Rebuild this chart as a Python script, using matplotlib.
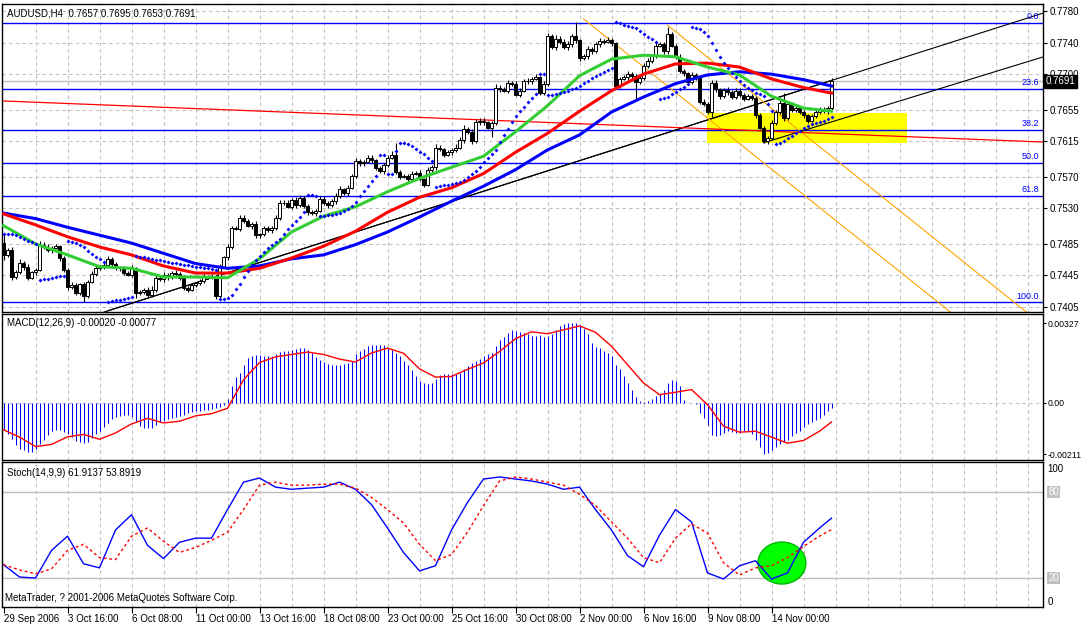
import numpy as np
import matplotlib
matplotlib.use("Agg")
import matplotlib.pyplot as plt
from matplotlib.patches import Rectangle, Ellipse

plt.rcParams['font.family'] = ['Liberation Sans', 'DejaVu Sans']

# ---- price data (H4 bars, prices in pips: 7471 -> 0.7471) ----
first_open = 7486
closes = [
    7471, 7477, 7443, 7449, 7461, 7456, 7442, 7449, 7452, 7484,
    7481, 7477, 7480, 7482, 7467, 7452, 7430, 7433, 7423, 7434,
    7419, 7437, 7447, 7454, 7456, 7458, 7466, 7459, 7454, 7454,
    7448, 7446, 7454, 7423, 7424, 7427, 7420, 7427, 7442, 7440,
    7446, 7443, 7448, 7447, 7442, 7429, 7427, 7433, 7435, 7438,
    7443, 7444, 7443, 7419, 7456, 7468, 7481, 7505, 7504, 7518,
    7514, 7508, 7510, 7496, 7497, 7505, 7503, 7505, 7518, 7537,
    7537, 7532, 7541, 7534, 7543, 7533, 7525, 7524, 7527, 7542,
    7537, 7534, 7539, 7546, 7554, 7549, 7556, 7571, 7590, 7587,
    7589, 7594, 7591, 7581, 7577, 7585, 7594, 7598, 7576, 7570,
    7571, 7567, 7574, 7575, 7567, 7560, 7579, 7582, 7607, 7605,
    7598, 7601, 7604, 7607, 7617, 7631, 7627, 7615, 7639, 7641,
    7639, 7632, 7638, 7683, 7681, 7679, 7689, 7688, 7674, 7679,
    7691, 7691, 7694, 7696, 7676, 7688, 7748, 7734, 7745, 7741,
    7734, 7738, 7748, 7743, 7720, 7723, 7732, 7729, 7738, 7742,
    7741, 7743, 7739, 7685, 7694, 7696, 7700, 7698, 7690, 7695,
    7710, 7717, 7723, 7736, 7738, 7729, 7751, 7736, 7722, 7704,
    7701, 7690, 7699, 7695, 7665, 7662, 7652, 7689, 7681, 7672,
    7680, 7677, 7671, 7679, 7674, 7669, 7672, 7670, 7648, 7632,
    7615, 7619, 7638, 7652, 7663, 7644, 7662, 7655, 7657, 7652,
    7648, 7641, 7647, 7652, 7655, 7653, 7657, 7691,
]
# upper / lower wick length beyond the body, pips
wick_up = [
    12, 3, 4, 3, 5, 2, 3, 2, 3, 4, 3, 4, 2, 3, 2, 3, 2, 4, 3, 2,
    3, 2, 4, 3, 2, 3, 4, 2, 3, 2, 3, 2, 4, 2, 3, 2, 3, 4, 3, 2,
    3, 2, 3, 4, 2, 3, 2, 3, 2, 3, 4, 2, 3, 2, 3, 2, 4, 3, 2, 4,
    3, 2, 3, 4, 2, 3, 2, 3, 4, 3, 4, 3, 2, 3, 4, 3, 2, 3, 2, 3,
    4, 2, 3, 3, 4, 2, 3, 3, 4, 3, 2, 3, 4, 2, 3, 2, 3, 4, 15, 3,
    2, 3, 3, 2, 4, 2, 3, 3, 4, 3, 2, 3, 3, 4, 3, 4, 2, 3, 4, 3,
    3, 2, 3, 4, 3, 3, 4, 2, 3, 3, 3, 4, 3, 4, 2, 3, 4, 3, 4, 3,
    3, 4, 3, 18, 2, 3, 4, 3, 3, 4, 3, 4, 3, 2, 3, 3, 4, 3, 2, 3,
    4, 3, 3, 4, 3, 3, 9, 3, 2, 3, 3, 2, 4, 3, 2, 3, 3, 4, 3, 2,
    3, 4, 3, 3, 4, 2, 3, 3, 2, 3, 2, 3, 4, 3, 4, 13, 3, 3, 4, 3,
    3, 2, 3, 3, 4, 3, 3, 4,
]
wick_dn = [
    6, 3, 4, 3, 2, 4, 3, 2, 3, 2, 3, 2, 3, 2, 4, 3, 4, 2, 3, 3,
    8, 3, 2, 3, 2, 3, 2, 3, 2, 4, 3, 2, 3, 6, 3, 2, 3, 2, 3, 2,
    3, 4, 2, 3, 3, 2, 3, 2, 3, 2, 2, 3, 2, 4, 3, 2, 3, 3, 2, 3,
    3, 2, 4, 3, 3, 2, 3, 4, 2, 3, 3, 2, 3, 4, 2, 3, 3, 2, 4, 2,
    3, 3, 2, 4, 3, 2, 3, 2, 3, 3, 3, 2, 3, 3, 2, 4, 3, 2, 3, 3,
    2, 3, 4, 2, 3, 3, 2, 3, 4, 2, 3, 2, 3, 3, 2, 4, 3, 3, 2, 3,
    3, 2, 12, 3, 3, 2, 3, 3, 2, 3, 2, 3, 3, 2, 3, 3, 3, 2, 3, 3,
    2, 3, 3, 3, 3, 2, 4, 3, 2, 3, 3, 2, 3, 4, 3, 2, 3, 3, 22, 3,
    3, 2, 3, 3, 2, 3, 3, 2, 3, 2, 3, 2, 3, 3, 3, 2, 3, 6, 3, 3,
    2, 3, 3, 2, 3, 3, 2, 3, 3, 2, 2, 3, 2, 3, 3, 3, 2, 3, 3, 2,
    3, 3, 2, 3, 3, 2, 3, 4,
]

# moving averages read every 8 bars
ma_bars = [0, 8, 16, 24, 32, 40, 48, 56, 64, 72, 80, 88, 96, 104, 112, 120,
           128, 136, 144, 152, 160, 168, 176, 184, 192, 200, 207]
ma_blue = [7524, 7517, 7506, 7496, 7486, 7473, 7460, 7454, 7457, 7466, 7471, 7484, 7500, 7519,
           7539, 7558, 7579, 7604, 7623, 7652, 7671, 7688, 7699, 7703, 7700, 7693, 7685]
ma_red = [7523, 7509, 7494, 7481, 7471, 7457, 7448, 7448, 7454, 7467, 7482, 7501, 7525, 7544,
          7556, 7574, 7601, 7625, 7653, 7679, 7700, 7713, 7714, 7709, 7694, 7683, 7676]
ma_green = [7508, 7485, 7471, 7456, 7454, 7443, 7443, 7442, 7466, 7500, 7520, 7532, 7551, 7568,
            7582, 7596, 7627, 7660, 7698, 7719, 7724, 7722, 7709, 7699, 7672, 7657, 7653]

# MACD(12,26,9) main values per bar, in 1e-5
macd_main = [
    -109, -127, -146, -173, -187, -194, -200, -200, -187, -170,
    -150, -132, -116, -109, -109, -120, -129, -140, -157, -162,
    -164, -161, -143, -127, -113, -98, -82, -65, -57, -53,
    -48, -48, -59, -78, -93, -101, -102, -102, -91, -79,
    -72, -67, -61, -56, -52, -48, -42, -37, -34, -34,
    -29, -27, -26, -20, -15, -7, 18, 68, 105, 123,
    154, 184, 194, 195, 195, 192, 191, 192, 200, 209,
    213, 215, 218, 221, 224, 224, 218, 204, 189, 176,
    170, 161, 157, 157, 157, 161, 166, 173, 200, 214,
    222, 232, 237, 237, 236, 236, 228, 217, 204, 191,
    174, 154, 136, 110, 91, 80, 78, 82, 97, 113,
    120, 119, 119, 120, 124, 140, 153, 162, 172, 181,
    192, 200, 207, 234, 258, 271, 286, 298, 296, 292,
    286, 281, 275, 273, 277, 269, 274, 283, 298, 316,
    324, 327, 327, 327, 318, 304, 282, 245, 230, 224,
    213, 203, 191, 157, 139, 112, 82, 52, 25, 10,
    3, 10, 16, 27, 37, 55, 82, 94, 91, 68,
    14, 0, -1, -4, -41, -61, -89, -132, -136, -132,
    -123, -116, -120, -123, -123, -116, -116, -127, -150, -181,
    -211, -205, -195, -182, -170, -159, -150, -136, -125, -113,
    -97, -85, -78, -71, -61, -50, -34, -20,
]
sig_bars = list(range(0, 205, 4)) + [207]
macd_signal = [-110, -140, -179, -170, -139, -129, -149, -123, -86, -63, -82, -75, -53, -44,
               -22, 95, 166, 189, 199, 209, 199, 180, 168, 205, 225, 204, 140, 106, 109, 138,
               164, 211, 264, 292, 284, 300, 316, 290, 233, 157, 82, 34, 44, 55, -7, -95,
               -120, -116, -140, -165, -154, -116, -78]

# Stochastic(14,9,9) read every 4 bars
stoch_bars = sig_bars
stoch_main = [29.3, 20.7, 20.0, 39.3, 49.3, 30.0, 27.1, 53.6, 64.3, 42.9,
              33.6, 45.0, 47.9, 47.9, 67.9, 87.1, 90.0, 83.6, 82.1, 82.9,
              83.6, 87.1, 82.1, 71.4, 55.0, 37.9, 25.0, 28.6, 53.6, 72.9,
              89.3, 90.7, 89.3, 87.9, 85.7, 82.1, 83.6, 67.9, 53.6, 35.7,
              27.9, 50.0, 67.9, 59.3, 23.6, 19.3, 28.6, 32.1, 19.3, 23.6,
              45.0, 55.0, 61.9]
stoch_signal = [29.3, 25.7, 22.9, 26.4, 39.3, 43.6, 34.3, 32.9, 49.3, 55.0,
                45.7, 37.9, 41.4, 46.4, 52.1, 67.9, 85.0, 87.1, 85.0, 85.0,
                85.7, 85.7, 82.9, 76.4, 67.9, 58.6, 43.6, 32.1, 36.4, 52.1,
                70.7, 87.9, 90.7, 89.3, 87.1, 85.0, 78.6, 70.7, 59.3, 47.9,
                34.3, 30.7, 47.9, 57.9, 51.4, 30.7, 22.1, 27.1, 28.6, 34.3,
                42.1, 49.3, 53.9]

# Fibonacci retracement
fib_high, fib_low = 0.7765, 0.7411
fib_levels = [0.0, 23.6, 38.2, 50.0, 61.8, 100.0]

# drawn objects: (bar0, price0, bar1, price1)
trend_black = [(26, 0.7400, 207, 0.7692), (190, 0.7613, 262, 0.77251)]
trend_orange = [(145, 0.7770, 240, 0.73853), (166, 0.7762, 262, 0.73732)]
trend_red = (0, 0.7666, 259.9, 0.7614)
zone = (175.9, 225.9, 0.76128, 0.76508)
bid = 0.7691
price_ticks = [0.7780, 0.7740, 0.7700, 0.7655, 0.7615, 0.7570, 0.7530, 0.7485, 0.7445, 0.7405]
date_labels = ["29 Sep 2006", "3 Oct 16:00", "6 Oct 08:00", "11 Oct 00:00", "13 Oct 16:00",
               "18 Oct 08:00", "23 Oct 00:00", "25 Oct 16:00", "30 Oct 08:00", "2 Nov 00:00",
               "6 Nov 16:00", "9 Nov 08:00", "14 Nov 00:00"]
circle = (194.6, 30.5, 12, 29.4)

# ---------------------------------------------------------------
c = np.array(closes) / 10000
o = np.concatenate([[first_open / 10000], c[:-1]])
hi = np.maximum(o, c) + np.array(wick_up) / 10000
lo = np.minimum(o, c) - np.array(wick_dn) / 10000
n = len(c)
bars = np.arange(n)


def psar(high, low, step=0.02, amax=0.2):
    out = np.zeros(len(high))
    bull = False
    ep = low[0]
    af = step
    out[0] = high[0]
    for i in range(1, len(high)):
        s = out[i - 1] + af * (ep - out[i - 1])
        if bull:
            s = min(s, low[i - 1], low[max(i - 2, 0)])
            if low[i] < s:
                bull, s, ep, af = False, ep, low[i], step
            elif high[i] > ep:
                ep, af = high[i], min(af + step, amax)
        else:
            s = max(s, high[i - 1], high[max(i - 2, 0)])
            if high[i] > s:
                bull, s, ep, af = True, ep, high[i], step
            elif low[i] < ep:
                ep, af = low[i], min(af + step, amax)
        out[i] = s
    return out


W, H = 1081, 624
fig = plt.figure(figsize=(W / 100, H / 100), dpi=100)


def box(top, bottom, left=2, right=1043):
    return [left / W, 1 - bottom / H, (right - left) / W, (bottom - top) / H]


ax = fig.add_axes(box(4, 312))
axm = fig.add_axes(box(314, 460))
axs = fig.add_axes(box(462, 607))
xl = (-0.375, 259.875)
grid_kw = dict(color="#c0c0c0", lw=0.8, ls=(0, (3, 3)), zorder=0)

for a in (ax, axm, axs):
    a.set_xlim(*xl)
    for s in a.spines.values():
        s.set_color("black")
        s.set_linewidth(1)
    for gb in range(8, 260, 8):
        a.axvline(gb, **grid_kw)
    a.yaxis.tick_right()
    a.tick_params(axis="y", direction="out", length=3, pad=2, labelsize=7, colors="black")
    a.tick_params(axis="x", bottom=False, labelbottom=False)

# ---- main chart ----
ax.set_ylim(0.739865, 0.778887)
for p in price_ticks:
    ax.axhline(p, **grid_kw)
ax.set_yticks(price_ticks)
ax.set_yticklabels([f"{p:.4f}" for p in price_ticks])

ax.add_patch(Rectangle((zone[0], zone[2]), zone[1] - zone[0], zone[3] - zone[2],
                       fc="#ffff00", ec="none", zorder=1))
ax.axhline(bid, color="#c0c0c0", lw=1, zorder=1.5)

for lv in fib_levels:
    p = fib_high - (fib_high - fib_low) * lv / 100
    ax.axhline(p, color="#0000ff", lw=1, zorder=2)
    ax.annotate(f"{lv:.1f}", xy=(1, p), xycoords=("axes fraction", "data"), xytext=(-3, 1),
                textcoords="offset points", ha="right", va="bottom", color="#0000ff", fontsize=6.5)

for x0, y0, x1, y1 in trend_black:
    ax.plot([x0, x1], [y0, y1], color="black", lw=0.8, zorder=2)
ax.axline((26, 0.7400), (207, 0.7692), color="black", lw=0.8, zorder=2)
for x0, y0, x1, y1 in trend_orange:
    ax.plot([x0, x1], [y0, y1], color="#ffa500", lw=0.8, zorder=2)
ax.axline(trend_red[:2], trend_red[2:], color="#ff0000", lw=0.9, zorder=2)

# candles
ax.vlines(bars, lo, hi, color="black", lw=0.8, zorder=4)
up = c >= o
ax.bar(bars[up], (c - o)[up], bottom=o[up], width=0.75, color="white", edgecolor="black", lw=0.7, zorder=4.5)
ax.bar(bars[~up], (o - c)[~up], bottom=c[~up], width=0.75, color="black", edgecolor="black", lw=0.7, zorder=4.5)

mb = np.array(ma_bars)
ax.plot(mb, np.array(ma_blue) / 10000, color="#0000ff", lw=2.2, zorder=5)
ax.plot(mb, np.array(ma_red) / 10000, color="#ff0000", lw=2.2, zorder=5)
ax.plot(mb, np.array(ma_green) / 10000, color="#32cd32", lw=2.2, zorder=5)

sar = psar(hi, lo)
ax.plot(bars, sar, ls="none", marker="D", ms=2, color="#0000ff", mew=0, zorder=6)

ax.text(1.0025, bid, f"{bid:.4f}", transform=ax.get_yaxis_transform(), ha="left", va="center",
        fontsize=7, color="white", zorder=20, clip_on=False,
        bbox=dict(fc="black", ec="black", pad=1.2))

# ---- MACD ----
axm.set_ylim(-0.00234, 0.00365)
axm.axhline(0, **grid_kw)
axm.vlines(bars, 0, np.array(macd_main) * 1e-5, color="#0000ff", lw=0.75, zorder=3)
axm.plot(sig_bars, np.array(macd_signal) * 1e-5, color="#ff0000", lw=1, zorder=4)
axm.set_yticks([0.00327, 0, -0.00211])
axm.set_yticklabels(["0.00327", "0.00", "-0.00211"])
axm.tick_params(axis="y", length=2, pad=1, labelsize=6.3)

# ---- Stochastic ----
axs.set_ylim(-0.28, 101.2)
axs.axhline(80, color="#c0c0c0", lw=1, zorder=1)
axs.axhline(20, color="#c0c0c0", lw=1, zorder=1)
axs.add_patch(Ellipse(circle[:2], circle[2], circle[3], fc="#00ff00", ec="#00b400", lw=1, zorder=2))
axs.plot(stoch_bars, stoch_main, color="#0000ff", lw=1, zorder=4)
axs.plot(stoch_bars, stoch_signal, color="#ff0000", lw=1, ls=(0, (2, 2)), zorder=4)
axs.set_yticks([])
tr = axs.get_yaxis_transform()
axs.text(1.004, 100, "100", transform=tr, ha="left", va="top", fontsize=7, clip_on=False)
axs.text(1.004, 0, "0", transform=tr, ha="left", va="bottom", fontsize=7, clip_on=False)
for lv in (80, 20):
    axs.text(1.005, lv, str(lv), transform=tr, ha="left", va="center", fontsize=7, color="white",
             clip_on=False, bbox=dict(fc="#c0c0c0", ec="none", pad=0.6))

axs.tick_params(axis="x", bottom=True, labelbottom=True, direction="out", length=4, pad=1, labelsize=7)
axs.set_xticks(range(0, 16 * len(date_labels), 16))
axs.set_xticklabels(date_labels, ha="left")

fig.text(7 / W, 1 - 13 / H, "AUDUSD,H4  0.7657 0.7695 0.7653 0.7691", va="center", fontsize=7)
fig.text(7 / W, 1 - 323 / H, "MACD(12,26,9) -0.00020 -0.00077", va="center", fontsize=7)
fig.text(7 / W, 1 - 473 / H, "Stoch(14,9,9) 61.9137 53.8919", va="center", fontsize=7)
fig.text(5 / W, 1 - 598 / H, "MetaTrader, ? 2001-2006 MetaQuotes Software Corp.", va="center", fontsize=7)

fig.savefig("out.png", dpi=100, facecolor="white")
